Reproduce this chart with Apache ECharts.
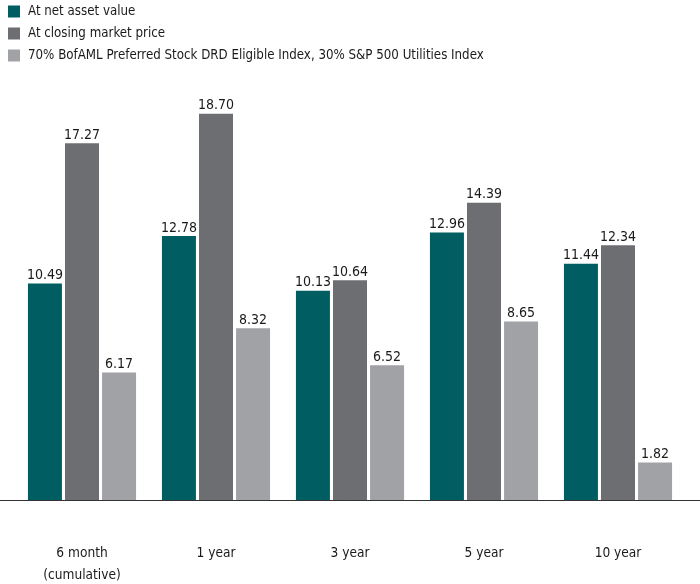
<!DOCTYPE html>
<html><head><meta charset="utf-8">
<script src="https://cdn.jsdelivr.net/npm/echarts@6/dist/echarts.min.js"></script>
<style>html,body{margin:0;padding:0;background:#fff}#c{width:700px;height:584px}</style>
</head><body><div id="c"></div>
<script>
const categories = ['6 month\n(cumulative)', '1 year', '3 year', '5 year', '10 year'];
const seriesNames = ['At net asset value', 'At closing market price', '70% BofAML Preferred Stock DRD Eligible Index, 30% S&P 500 Utilities Index'];
const navValues = [10.49, 12.78, 10.13, 12.96, 11.44];
const marketValues = [17.27, 18.70, 10.64, 14.39, 12.34];
const indexValues = [6.17, 8.32, 6.52, 8.65, 1.82];
const colors = ['#005E62', '#6D6E71', '#A1A2A5'];

const FONT = '"DejaVu Sans Condensed", "Open Sans", sans-serif';
const chart = echarts.init(document.getElementById('c'), null, {renderer: 'canvas'});
const mk = (name, data, i) => ({
  name, type: 'bar', data, xAxisIndex: 0, yAxisIndex: 0,
  barWidth: 34, barGap: '9%',
  itemStyle: {color: colors[i]},
  label: {show: true, position: 'top', distance: 2, offset: [0, 1], color: '#1a1a1a', fontSize: 14, fontFamily: FONT,
    formatter: p => p.value.toFixed(2)}
});
chart.setOption({
  animation: false,
  textStyle: {fontFamily: FONT},
  legend: {
    orient: 'vertical', left: 3, top: 0, itemWidth: 12, itemHeight: 12, itemGap: 9,
    icon: 'rect', data: seriesNames,
    textStyle: {fontSize: 13.2, color: '#1a1a1a', fontFamily: FONT, padding: [0, 0, 0, 3]}
  },
  grid: [
    {left: 15, right: 15, top: 87, bottom: 84, containLabel: false, outerBoundsMode: 'none'},
    {left: 0, right: 0, top: 87, bottom: 84, containLabel: false, outerBoundsMode: 'none'}
  ],
  xAxis: [
    {type: 'category', data: categories, gridIndex: 0,
     axisLine: {show: false}, axisTick: {show: false},
     axisLabel: {fontSize: 13.6, color: '#1a1a1a', margin: 42, lineHeight: 22, fontFamily: FONT}},
    {type: 'category', data: [''], gridIndex: 1,
     axisLine: {show: true, lineStyle: {color: '#333', width: 1}}, axisTick: {show: false}, axisLabel: {show: false}}
  ],
  yAxis: [
    {type: 'value', min: 0, max: 20, gridIndex: 0, show: false, splitLine: {show: false}},
    {type: 'value', min: 0, max: 20, gridIndex: 1, show: false, splitLine: {show: false}}
  ],
  series: [
    mk(seriesNames[0], navValues, 0),
    mk(seriesNames[1], marketValues, 1),
    mk(seriesNames[2], indexValues, 2)
  ]
});
</script></body></html>
